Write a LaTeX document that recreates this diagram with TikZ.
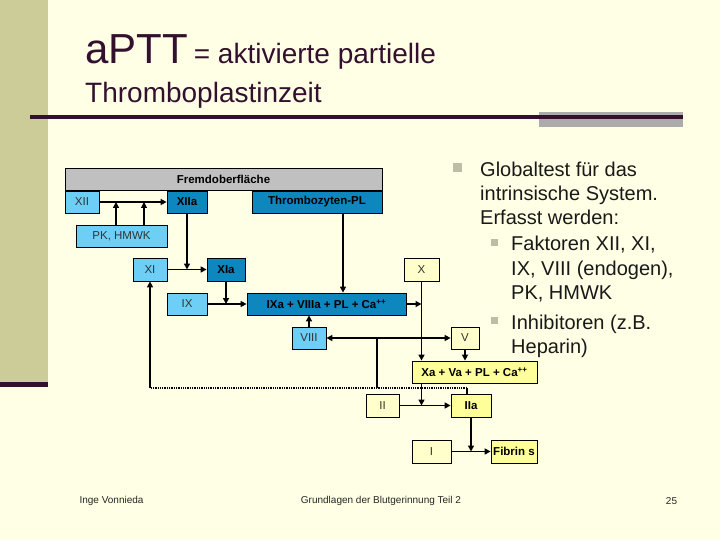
\documentclass[tikz,border=0pt]{standalone}
\usepackage{fontspec}
\setmainfont{Liberation Sans}
\usetikzlibrary{arrows.meta}
\definecolor{bg}{HTML}{FFFFE5}
\definecolor{barolive}{HTML}{CCCC99}
\definecolor{deepplum}{HTML}{33112E}
\definecolor{rulegray}{HTML}{ABABAB}
\definecolor{lblue}{HTML}{6DCFF6}
\definecolor{dblue}{HTML}{0E86BE}
\definecolor{lyel}{HTML}{FFFFCC}
\definecolor{dyel}{HTML}{FFFF99}
\definecolor{fgray}{HTML}{C0C0C0}
\definecolor{bulgray}{HTML}{BDBDA5}
\begin{document}
\begin{tikzpicture}[x=1pt,y=-1pt,
  box/.style={draw=black, line width=0.8pt, inner sep=0pt, font=\fontsize{11.5}{13}\selectfont, text=black!80},
  lbox/.style={box, fill=lblue},
  dbox/.style={box, fill=dblue, font=\fontsize{11.5}{13}\selectfont\bfseries, text=black},
  ybox/.style={box, fill=lyel},
  Ybox/.style={box, fill=dyel, font=\fontsize{11.5}{13}\selectfont\bfseries, text=black},
  gbox/.style={box, fill=fgray, font=\fontsize{11.5}{13}\selectfont\bfseries, text=black},
  conn/.style={line width=1.9pt, -{Triangle[length=6pt,width=6pt]}},
  bul/.style={fill=bulgray, inner sep=0pt, minimum size=#1},
  bultext/.style={anchor=base west, inner sep=0pt, font=\fontsize{20}{24}\selectfont, text=black!90},
  foot/.style={inner sep=0pt, font=\fontsize{10}{12}\selectfont, text=black!85}]
  \useasboundingbox (0,0) rectangle (720,540);
  \fill[bg] (0,0) rectangle (720,540);
  \fill[barolive] (0,0) rectangle (48,382);
  \fill[deepplum] (0,382) rectangle (48,387);
  \fill[rulegray] (539,112) rectangle (683,127);
  \fill[deepplum] (30,115) rectangle (683,119);
  \node[anchor=base west, inner sep=0pt, text=deepplum] (title) at (85,64)
    {\fontsize{42}{48}\selectfont aPTT\hspace{6pt}\fontsize{28}{34}\selectfont = aktivierte partielle};
  \node[anchor=base west, inner sep=0pt, text=deepplum] (subtitle) at (85,103)
    {\fontsize{28}{34}\selectfont Thromboplastinzeit};

  \foreach \name/\st/\x/\y/\w/\h/\txt in {
      frem/gbox/223.5/179/317/22/Fremdoberfläche,
      f12/lbox/82/202/34/22/XII, f12a/dbox/187/202/40/22/XIIa,
      tpl/dbox/317/202/130/22/Thrombozyten-PL,
      pk/lbox/121.5/236/91/22/{PK, HMWK},
      f11/lbox/150/269.5/34/23/XI, f11a/dbox/226/269.5/38/23/XIa,
      f10/ybox/421.5/269.5/35/23/X,
      f9/lbox/187/304/40/22/IX,
      f9a/dbox/326.5/304/159/22/{IXa + VIIIa + PL + Ca\textsuperscript{++}},
      f8/lbox/309/338/34/22/VIII, f5/ybox/465/338/28/22/V,
      f10a/Ybox/474.5/372/125/22/{Xa + Va + PL + Ca\textsuperscript{++}},
      f2/ybox/382.5/405.5/33/23/II, f2a/Ybox/471/405.5/40/23/IIa,
      f1/ybox/431.5/451.5/39/23/I, fib/Ybox/514/451.5/46/23/{Fibrin s}}
    \node[\st, minimum width=\w, minimum height=\h] (\name) at (\x,\y) {\txt};

  \coordinate (pk1) at (116,202);
  \coordinate (pk2) at (144,202);
  \coordinate (tp) at (343,202);
  \coordinate (fb) at (467,388);
  \coordinate (fv) at (377,388);
  \draw[conn] (f12) -- (f12a);
  \draw[conn] (pk.north -| pk1) -- (pk1);
  \draw[conn, line width=1.1pt] (pk.north -| pk2) -- (pk2);
  \draw[conn] (f12a) -- (f12a |- f11);
  \draw[conn] (f11) -- (f11a);
  \draw[conn] (f11a) -- (f11a |- f9);
  \draw[conn] (f9) -- (f9a);
  \draw[conn] (tpl.south -| tp) -- (tp |- f9a.north);
  \draw[conn] (f9a) -- (f9a -| f10);
  \draw[conn] (f10) -- (f10 |- f10a.north);
  \draw[conn] (f8) -- (f8 |- f9a.south);
  \draw[conn, {Triangle[length=6pt,width=6pt]}-{Triangle[length=6pt,width=6pt]}] (f8) -- (f5);
  \draw[conn] (f5) -- (f5 |- f10a.north);
  \draw[conn] (f10a.south -| f10) -- (f10 |- f2);
  \draw[conn] (f2) -- (f2a);
  \draw[conn] (f2a) -- (f2a |- f1);
  \draw[conn] (f1) -- (fib);
  \draw[line width=1.1pt] (f2a.north -| fb) -- (fb);
  \draw[line width=1.3pt, densely dotted] (fb) -- (f11 |- fb);
  \draw[conn] (f11 |- fb) -- (f11);
  \draw[line width=1.9pt] (fv) -- (fv |- f8);

  \node[bul=9pt] (b1) at (457,168) {};
  \node[bul=7pt] (b2) at (494,242) {};
  \node[bul=7pt] (b3) at (494,320) {};
  \foreach \txt/\x/\y [count=\k] in {
      Globaltest für das/480/177, intrinsische System./480/201, Erfasst werden:/480/225,
      {Faktoren XII, XI,}/511/251, {IX, VIII (endogen),}/511/275, {PK, HMWK}/511/299,
      Inhibitoren (z.B./511/329, Heparin)/511/353}
    \node[bultext] (t\k) at (\x,\y) {\txt};

  \node[foot] (autor) at (111.5,501) {Inge Vonnieda};
  \node[foot] (thema) at (381,501) {Grundlagen der Blutgerinnung Teil 2};
  \node[foot] (seite) at (671.5,501) {25};
\end{tikzpicture}
\end{document}
